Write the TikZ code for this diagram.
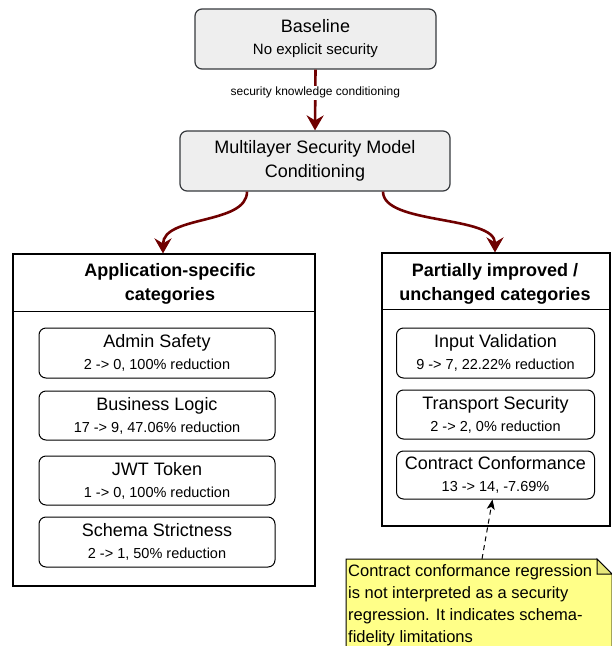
\documentclass[tikz,border=0pt]{standalone}
\usepackage{fontspec}
\setmainfont{Liberation Sans}
\usetikzlibrary{arrows.meta,calc}
\definecolor{arrowred}{HTML}{6F0000}
\definecolor{grayfill}{HTML}{EEEEEE}
\definecolor{grayline}{HTML}{36393D}
\definecolor{notefill}{HTML}{FFFF88}
\definecolor{notefold}{HTML}{E8E87A}
\newcommand{\twoline}[2]{#1\\[1pt]{\fontsize{14.5}{17}\selectfont #2}}
\tikzset{
  x=1pt, y=-1pt,
  graybox/.style={draw=grayline, fill=grayfill, rounded corners=7pt, line width=1.2pt, align=center, inner sep=0pt},
  catbox/.style={draw=black, fill=white, rounded corners=7pt, line width=1pt, align=center, inner sep=0pt, font=\fontsize{18}{21}\selectfont},
  container/.style={draw=black, line width=1.2pt, inner sep=0pt},
  flow/.style={draw=arrowred, line width=2.6pt, -{Stealth[length=15pt,width=17pt,inset=5pt]}},
  hdr/.style={font=\fontsize{18}{24}\selectfont\bfseries, align=center},
  notearrow/.style={draw=black, line width=1pt, dashed, dash pattern=on 5pt off 4pt, -{Stealth[length=10pt,width=8pt,inset=2.5pt]}},
}
\begin{document}
\begin{tikzpicture}
\useasboundingbox (0,0) rectangle (612,646);
% top boxes
\node[graybox, minimum width=241pt, minimum height=60pt, font=\fontsize{18}{21}\selectfont] (base) at (315.5,39) {Baseline\\[1pt]{\fontsize{15}{18}\selectfont No explicit security}};
\node[graybox, minimum width=270pt, minimum height=60pt, font=\fontsize{18}{24}\selectfont] (multi) at (315,161) {Multilayer Security Model\\Conditioning};
\draw[flow] (base.south) -- node[pos=0.38, fill=white, inner sep=1.5pt, font=\fontsize{12}{14}\selectfont] (lab) {security knowledge conditioning} (multi.north);
% containers
\node[container, minimum width=302pt, minimum height=332pt] (left) at (164,420) {};
\node[container, minimum width=228pt, minimum height=273pt] (right) at (496,389.5) {};
\draw[line width=1.2pt] ($(left.north west)+(0,58)$) coordinate (lsep) -- (lsep -| left.east);
\draw[line width=1.2pt] ($(right.north west)+(0,57)$) coordinate (rsep) -- (rsep -| right.east);
\node[hdr] (lhdr) at (170,284) {Application-specific\\categories};
\node[hdr] (rhdr) at (495,284) {Partially improved /\\unchanged categories};
% curved arrows
\coordinate (ls) at ($(multi.south)+(-68,0)$);
\coordinate (rs) at ($(multi.south)+(68,0)$);
\draw[flow] (ls) .. controls (247,225) and (163,215) .. (left.north -| 163,0);
\draw[flow] (rs) .. controls (383,225) and (495,215) .. (right.north -| 495,0);
% left category boxes
\node[catbox, minimum width=236pt, minimum height=50pt] (admin) at (157,353) {\twoline{Admin Safety}{2 -> 0, 100\% reduction}};
\node[catbox, minimum width=236pt, minimum height=49pt] (biz) at (157,415.5) {\twoline{Business Logic}{17 -> 9, 47.06\% reduction}};
\node[catbox, minimum width=236pt, minimum height=49pt] (jwt) at (157,480.5) {\twoline{JWT Token}{1 -> 0, 100\% reduction}};
\node[catbox, minimum width=236pt, minimum height=50pt] (schema) at (157,542) {\twoline{Schema Strictness}{2 -> 1, 50\% reduction}};
% right category boxes
\node[catbox, minimum width=198pt, minimum height=50pt] (input) at (495.5,353) {\twoline{Input Validation}{9 -> 7, 22.22\% reduction}};
\node[catbox, minimum width=198pt, minimum height=49pt] (trans) at (495.5,414.5) {\twoline{Transport Security}{2 -> 2, 0\% reduction}};
\node[catbox, minimum width=198pt, minimum height=48pt] (contract) at (495.5,475) {\twoline{Contract Conformance}{13 -> 14, -7.69\%}};
% note
\draw[black, line width=1pt, fill=notefill] (346,559) -- (597,559) -- (612,574) -- (612,660) -- (346,660) -- cycle;
\draw[black, line width=1pt, fill=notefold] (597,559) -- (597,574) -- (612,574) -- cycle;
\node[anchor=north west, align=left, inner sep=0pt, font=\fontsize{16.5}{22}\selectfont] (note) at (348,564) {Contract conformance regression\\is not interpreted as a security\\regression. It indicates schema-\\fidelity limitations};
\coordinate (notetop) at (482,559);
\draw[notearrow] (notetop) -- ($(contract.south)+(-3,0)$);
\end{tikzpicture}
\end{document}
